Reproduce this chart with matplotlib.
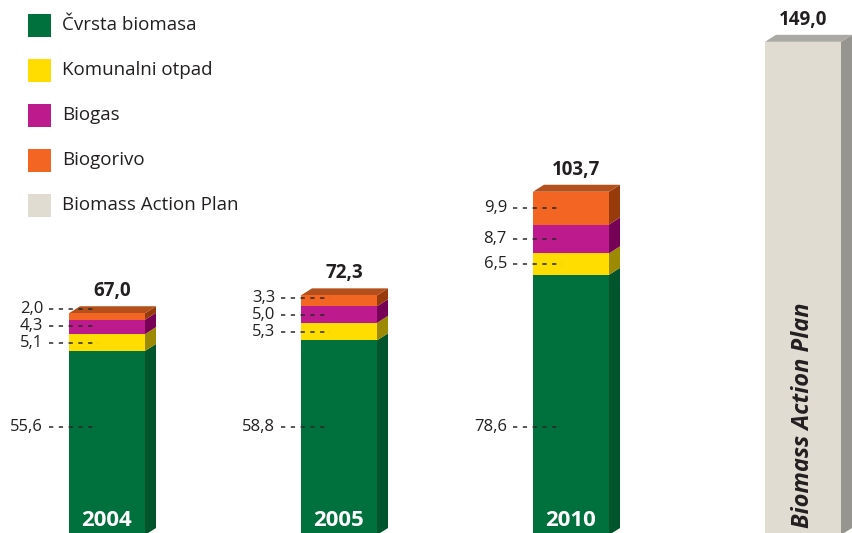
import matplotlib
matplotlib.use("Agg")
import matplotlib.pyplot as plt
from matplotlib.patches import Polygon, Rectangle

plt.rcParams['font.family'] = ['Open Sans', 'DejaVu Sans']

# ---- data ----
years = ['2004', '2005', '2010']
cvrsta = [55.6, 58.8, 78.6]
komunalni = [5.1, 5.3, 6.5]
biogas = [4.3, 5.0, 8.7]
biogorivo = [2.0, 3.3, 9.9]
totals = [67.0, 72.3, 103.7]
bap_value = 149.0
bap_label = 'Biomass Action Plan'

series_names = ['Čvrsta biomasa', 'Komunalni otpad', 'Biogas', 'Biogorivo']
series_values = [cvrsta, komunalni, biogas, biogorivo]

# ---- style ----
front_cols = ['#00703c', '#ffdd00', '#bd1a8d', '#f26522']
side_cols = ['#00552c', '#9c8a00', '#760056', '#973b0c']
top_col = '#b4501c'
bap_front, bap_side, bap_top = '#e0dcd2', '#979590', '#aba9a4'
txt = '#231f20'

W, H, DPI = 852, 533, 100
fig = plt.figure(figsize=(W / DPI, H / DPI), dpi=DPI)
ax = fig.add_axes([0, 0, 1, 1])
px_per_unit_y = 3.31
spacing_px = 232.0
x_left = -107 / spacing_px
ax.set_xlim(x_left, x_left + W / spacing_px)
y_bot = 2.0 / px_per_unit_y
ax.set_ylim(y_bot, y_bot + H / px_per_unit_y)
ax.axis('off')

bw = 76 / spacing_px
dx = 11 / spacing_px
dy = 7 / px_per_unit_y

def draw_box(xc, y0, y1, sc, tc=None):
    xl, xr = xc - bw / 2, xc + bw / 2
    ax.add_patch(Polygon([(xr, y0), (xr + dx, y0 + dy), (xr + dx, y1 + dy), (xr, y1)],
                         closed=True, fc=sc, ec='none', zorder=2))
    if tc is not None:
        ax.add_patch(Polygon([(xl, y1), (xl + dx, y1 + dy), (xr + dx, y1 + dy), (xr, y1)],
                             closed=True, fc=tc, ec='none', zorder=2))

xs = list(range(len(years)))
bottoms = [0.0] * len(years)
label_pos = [[] for _ in years]
for si, vals in enumerate(series_values):
    ax.bar(xs, vals, bottom=bottoms, width=bw, color=front_cols[si], zorder=3, linewidth=0)
    for i, v in enumerate(vals):
        b = bottoms[i]
        draw_box(xs[i], b, b + v, side_cols[si],
                 top_col if si == len(series_values) - 1 else None)
        label_pos[i].append((b + v / 2, v))
    bottoms = [b + v for b, v in zip(bottoms, vals)]

# value labels with leader lines
green_label_y = 108 / px_per_unit_y
min_gap = 5.0
for i in xs:
    prev = None
    for si, (mid, v) in enumerate(label_pos[i]):
        if si == 0:
            y = green_label_y
        else:
            y = mid
            if prev is not None and y < prev + min_gap:
                y = prev + min_gap
            prev = y
        xl = xs[i] - bw / 2
        ax.plot([xl - 20 / spacing_px, xl + 29 / spacing_px], [y, y], color='#2a2a2a', lw=1.1,
                ls=(0, (2.8, 3.6)), zorder=5)
        ax.text(xl - 26 / spacing_px, y, f'{v:.1f}'.replace('.', ','), ha='right', va='center',
                fontsize=12, color=txt, zorder=6)
    ax.text(xs[i] + dx / 2, bottoms[i] + 22 / px_per_unit_y, f'{totals[i]:.1f}'.replace('.', ','),
            ha='center', va='center', fontsize=13.5, fontweight='bold', color=txt)
    ax.text(xs[i], 15 / px_per_unit_y, years[i], ha='center', va='center', fontsize=16,
            fontweight='bold', color='white', zorder=6)

# Biomass Action Plan bar
xb = len(years)
ax.bar([xb], [bap_value], width=bw, color=bap_front, zorder=3, linewidth=0)
draw_box(xb, 0, bap_value, bap_side, bap_top)
ax.text(xb, bap_value + 22 / px_per_unit_y, f'{bap_value:.1f}'.replace('.', ','),
        ha='center', va='center', fontsize=13.5, fontweight='bold', color=txt)
ax.text(xb, 7 / px_per_unit_y, bap_label, rotation=90, ha='center', va='bottom',
        fontsize=17, fontweight='bold', fontstyle='italic', color=txt, zorder=6)

# legend (manual, figure pixel coords)
leg_names = series_names + [bap_label]
leg_cols = front_cols + [bap_front]
for k, (nm, c) in enumerate(zip(leg_names, leg_cols)):
    yc = 25 + 45 * k
    fig.patches.append(Rectangle((28 / W, 1 - (yc + 11.5) / H), 23 / W, 23 / H,
                                 transform=fig.transFigure, fc=c, ec='none'))
    fig.text(62 / W, 1 - yc / H, nm, ha='left', va='center', fontsize=13.5, color=txt)

fig.savefig('out.png', dpi=DPI)
